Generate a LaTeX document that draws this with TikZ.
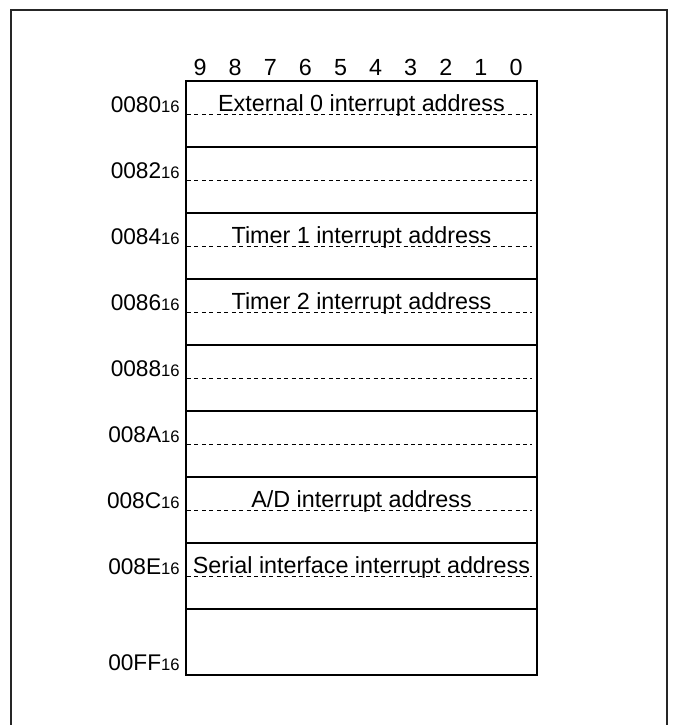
\documentclass[tikz,border=0pt]{standalone}
\usepackage{fontspec}
\setmainfont{Liberation Sans}
\tikzset{addr/.style = {anchor=base east, inner sep=0pt, font=\fontsize{17}{19}\selectfont},
         vect/.style = {anchor=base, inner sep=0pt, font=\fontsize{17.5}{19}\selectfont},
         half/.style = {dash pattern=on 3pt off 2.6pt, line width=0.75pt}}
\newcommand{\hexsub}[1]{#1{\fontsize{12.5}{13}\selectfont 16}}

\begin{document}
\begin{tikzpicture}[x=0.75pt, y=-0.75pt]
    \useasboundingbox (0,0) rectangle (674,725);
    \draw[line width=1.9pt, black!85](11,725)--(11,10)--(667,10)--(667,725);
    \coordinate(tl)at(186,81);
    \coordinate(br)at(537,675);
    \draw[line width=1.1pt](tl)rectangle(br);
    \foreach \b in {0,...,9}
        \node[vect](bit\b)at({516-35.1*\b},75){\b};
    \foreach \i/\a/\t in {0/0080/External 0 interrupt address, 1/0082/, 2/0084/Timer 1 interrupt address,
                          3/0086/Timer 2 interrupt address, 4/0088/, 5/008A/, 6/008C/{A/D interrupt address},
                          7/008E/Serial interface interrupt address}{
        \draw[half](187,{114+66*\i})--(532,{114+66*\i});
        \draw[line width=1.1pt](186,{147+66*\i})--(537,{147+66*\i});
        \node[addr](a\i)at(180,{112+66*\i}){\hexsub{\a}};
        \node[vect](v\i)at(361.5,{111+66*\i}){\t};
    }
    \node[addr](aend)at(180,670){\hexsub{00FF}};
\end{tikzpicture}
\end{document}
